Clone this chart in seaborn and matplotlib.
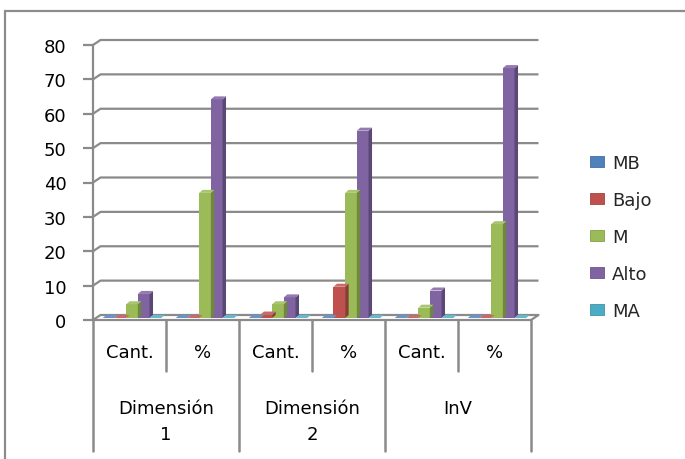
import numpy as np
import pandas as pd
import matplotlib
matplotlib.use("Agg")
import matplotlib.pyplot as plt
from matplotlib.patches import Polygon, Rectangle
from matplotlib.lines import Line2D
from matplotlib.colors import to_rgb
import seaborn as sns

# ---- data -------------------------------------------------------------
groups = ["Dimensión\n1", "Dimensión\n2", "InV"]
subcats = ["Cant.", "%"]
series = ["MB", "Bajo", "M", "Alto", "MA"]

MB = [0, 0, 0, 0, 0, 0]
Bajo = [0, 0, 1, 9.1, 0, 0]
M = [4, 36.4, 4, 36.4, 3, 27.3]
Alto = [7, 63.6, 6, 54.5, 8, 72.7]
MA = [0, 0, 0, 0, 0, 0]

yticks = [0, 10, 20, 30, 40, 50, 60, 70, 80]
colors = ["#4F81BD", "#C0504D", "#9BBB59", "#8064A2", "#4BACC6"]

# long-form table for seaborn
keys = [f"{g}|{s}" for g in groups for s in subcats]
rows = []
for name, vals in zip(series, [MB, Bajo, M, Alto, MA]):
    for k, v in zip(keys, vals):
        rows.append({"cat": k, "serie": name, "valor": v})
df = pd.DataFrame(rows)

# ---- figure -----------------------------------------------------------
sns.set_theme(style="white")
plt.rcParams["font.family"] = ["DejaVu Sans"]
FS = 13
W, H = 685, 460
fig = plt.figure(figsize=(W / 100, H / 100), dpi=100)
fig.patch.set_facecolor("white")

ax_l, ax_r, ax_t, ax_b = 93, 531, 46, 321
ax = fig.add_axes([ax_l / W, 1 - ax_b / H, (ax_r - ax_l) / W, (ax_b - ax_t) / H])
ax.set_facecolor("none")

sns.barplot(data=df, x="cat", y="valor", hue="serie", order=keys,
            hue_order=series, palette=colors, width=0.8, saturation=1,
            ax=ax, legend=False, errorbar=None, zorder=3)

ax.set_xlim(-0.5, len(keys) - 0.5)
ax.set_ylim(0, 80)

# pixel -> data conversion
px_x = (len(keys)) / (ax_r - ax_l)
px_y = 80 / (ax_b - ax_t)

grid_c = "#8A8A8A"
dx_back, dy_back = 7.5 * px_x, 5 * px_y
x0, x1 = -0.5, len(keys) - 0.5

# back wall gridlines with short oblique connectors from the front axis
for v in yticks:
    ax.plot([x0, x0 + dx_back, x1 + dx_back], [v, v + dy_back, v + dy_back],
            color=grid_c, lw=1.6, zorder=1, clip_on=False,
            solid_capstyle="butt")
# floor: front edge and right edge
ax.plot([x0, x1, x1 + dx_back], [0, 0, dy_back], color=grid_c, lw=1.6,
        zorder=1, clip_on=False)

# 3D look for the columns: shift the front face and add side/top faces
shift_x, shift_y = 2.5 * px_x, 2.0 * px_y
dep_x, dep_y = 3.5 * px_x, 3.0 * px_y


def shade(c, f):
    r, g, b = to_rgb(c)
    return (r * f, g * f, b * f)


def tint(c, f):
    r, g, b = to_rgb(c)
    return (r + (1 - r) * f, g + (1 - g) * f, b + (1 - b) * f)


for bar in list(ax.patches):
    c = bar.get_facecolor()
    bx = bar.get_x() + shift_x
    bw = bar.get_width()
    h = bar.get_height()
    by = shift_y
    bar.set_x(bx)
    bar.set_y(by)
    bar.set_edgecolor("none")
    side = Polygon([(bx + bw, by), (bx + bw + dep_x, by + dep_y),
                    (bx + bw + dep_x, by + h + dep_y), (bx + bw, by + h)],
                   closed=True, facecolor=shade(c, 0.72), edgecolor="none",
                   zorder=3, clip_on=False)
    top = Polygon([(bx, by + h), (bx + bw, by + h),
                   (bx + bw + dep_x, by + h + dep_y), (bx + dep_x, by + h + dep_y)],
                  closed=True, facecolor=tint(c, 0.15), edgecolor="none",
                  zorder=3, clip_on=False)
    ax.add_patch(side)
    ax.add_patch(top)

# axes styling
for s in ["top", "right", "bottom"]:
    ax.spines[s].set_visible(False)
ax.spines["left"].set_color(grid_c)
ax.spines["left"].set_linewidth(1.6)
ax.spines["left"].set_zorder(2)
ax.set_yticks(yticks)
ax.set_yticklabels([str(v) for v in yticks], fontsize=FS, color="#000000")
ax.tick_params(axis="y", direction="out", length=7, width=1.6,
               color=grid_c, pad=12, left=True)
ax.tick_params(axis="x", bottom=False, labelbottom=False)
ax.set_xlabel("")
ax.set_ylabel("")

# category table below the floor
xt = ax.get_xaxis_transform()
sub_bot = -(372 - ax_b) / (ax_b - ax_t)
grp_bot = -(452 - ax_b) / (ax_b - ax_t)
for i in range(len(keys) + 1):
    xb = i - 0.5
    yb = grp_bot if i % 2 == 0 else sub_bot
    ax.add_line(Line2D([xb, xb], [0, yb], transform=xt, color=grid_c,
                       lw=1.8, clip_on=False))
for i, k in enumerate(keys):
    ax.annotate(k.split("|")[1], xy=(i, 0), xycoords=xt, xytext=(0, -32),
                textcoords="offset pixels", ha="center", va="center",
                fontsize=FS, color="#000000", annotation_clip=False)
for j, g in enumerate(groups):
    ax.annotate(g, xy=(2 * j + 0.5, 0), xycoords=xt, xytext=(0, -79),
                textcoords="offset pixels", ha="center", va="top",
                fontsize=FS, color="#000000", annotation_clip=False,
                linespacing=1.6)

# legend
handles = [Rectangle((0, 0), 1, 1, facecolor=c, edgecolor=shade(c, 0.85), lw=0.6)
           for c in colors]
fig.legend(handles, series, loc="upper left",
           bbox_to_anchor=(590 / W, 1 - 155 / H), frameon=False,
           fontsize=FS, handlelength=0.78, handleheight=0.55,
           handletextpad=0.45, labelspacing=1.05, borderpad=0,
           borderaxespad=0)

# chart frame
fig.add_artist(Rectangle((5 / W, -0.2), 1.2, 1.2 - 12 / H,
                         transform=fig.transFigure, fill=False,
                         edgecolor="#8C8C8C", lw=1.6))

fig.savefig("out.png", dpi=100)
